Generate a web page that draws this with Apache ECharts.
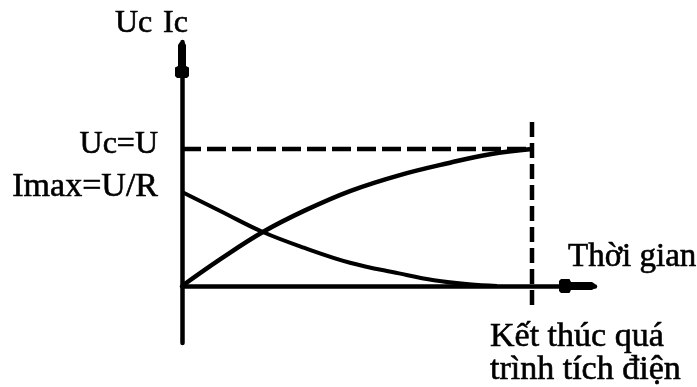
<!DOCTYPE html>
<html>
<head>
<meta charset="utf-8">
<script src="https://cdn.jsdelivr.net/npm/echarts@6/dist/echarts.min.js"></script>
<style>
  html, body { margin: 0; padding: 0; background: #fff; }
  #chart { width: 697px; height: 387px; }
</style>
</head>
<body>
<div id="chart"></div>
<script>
// thời gian (t), end of charging at t = 10
const timeUc = [0, 1.15, 2.31, 3.5, 4.8, 6.2, 7.66, 8.8, 10];
const valUc  = [0, 0.205, 0.394, 0.55, 0.693, 0.808, 0.9, 0.962, 1];

const timeIc = [0, 1.15, 2.31, 3.5, 4.8, 6.2, 7.2, 8.2, 9];
const valIc  = [0.686, 0.54, 0.394, 0.278, 0.17, 0.092, 0.042, 0.012, 0];

const endTime = 10;     // Kết thúc quá trình tích điện
const levelU = 1;       // Uc = U
const dashVertical = [1.197, -0.175];

const pair = (xs, ys) => xs.map((x, i) => [x, ys[i]]);

const arrowPath = 'path://M5,0 L9,0 L11,3 L11,24 L14,25.5 L14,34 L12,36 L2,36 L0,34 L0,25.5 L3,24 L3,3 Z';
const font = '"Liberation Serif", "DejaVu Serif", serif';

const axisLine = {
    show: true,
    symbol: ['none', arrowPath],
    symbolSize: [14, 36],
    symbolOffset: [0, -18],
    lineStyle: { color: '#000', width: 4.5 }
};

const txt = (text, x, y, size, align) => ({
    type: 'text', x: x, y: y,
    style: {
        text: text, font: size + 'px ' + font, fill: '#000',
        stroke: '#000', lineWidth: 0.6,
        textAlign: align, textVerticalAlign: 'middle'
    }
});

const chart = echarts.init(document.getElementById('chart'));
chart.setOption({
    animation: false,
    grid: { left: 182, right: 102, top: 42, bottom: 44 },
    xAxis: {
        type: 'value', min: 0, max: 11.8,
        axisLine: axisLine,
        axisTick: { show: false }, axisLabel: { show: false }, splitLine: { show: false }
    },
    yAxis: {
        type: 'value', min: -0.416, max: 1.781,
        axisLine: axisLine,
        axisTick: { show: false }, axisLabel: { show: false }, splitLine: { show: false }
    },
    series: [
        {
            name: 'Uc', type: 'line', smooth: 0.4, showSymbol: false,
            lineStyle: { color: '#000', width: 4.5 },
            data: pair(timeUc, valUc)
        },
        {
            name: 'Ic', type: 'line', smooth: 0.4, showSymbol: false,
            lineStyle: { color: '#000', width: 4 },
            data: pair(timeIc, valIc)
        },
        {
            type: 'line', showSymbol: false,
            lineStyle: { color: '#000', width: 4.5, type: [19, 6] },
            data: [[0, levelU], [endTime, levelU]]
        },
        {
            type: 'line', showSymbol: false,
            lineStyle: { color: '#000', width: 4.5, type: [15, 6] },
            data: [[endTime, dashVertical[0]], [endTime, dashVertical[1]]]
        }
    ],
    graphic: [
        txt('Uc', 115, 24, 32, 'left'),
        txt('Ic', 163, 24, 32, 'left'),
        txt('Uc=U', 158, 145, 32, 'right'),
        txt('Imax=U/R', 158, 187, 34, 'right'),
        txt('Thời gian', 568, 257, 33, 'left'),
        txt('Kết thúc quá', 490, 337, 34, 'left'),
        txt('trình tích điện', 490, 370, 34, 'left')
    ]
});
</script>
</body>
</html>
